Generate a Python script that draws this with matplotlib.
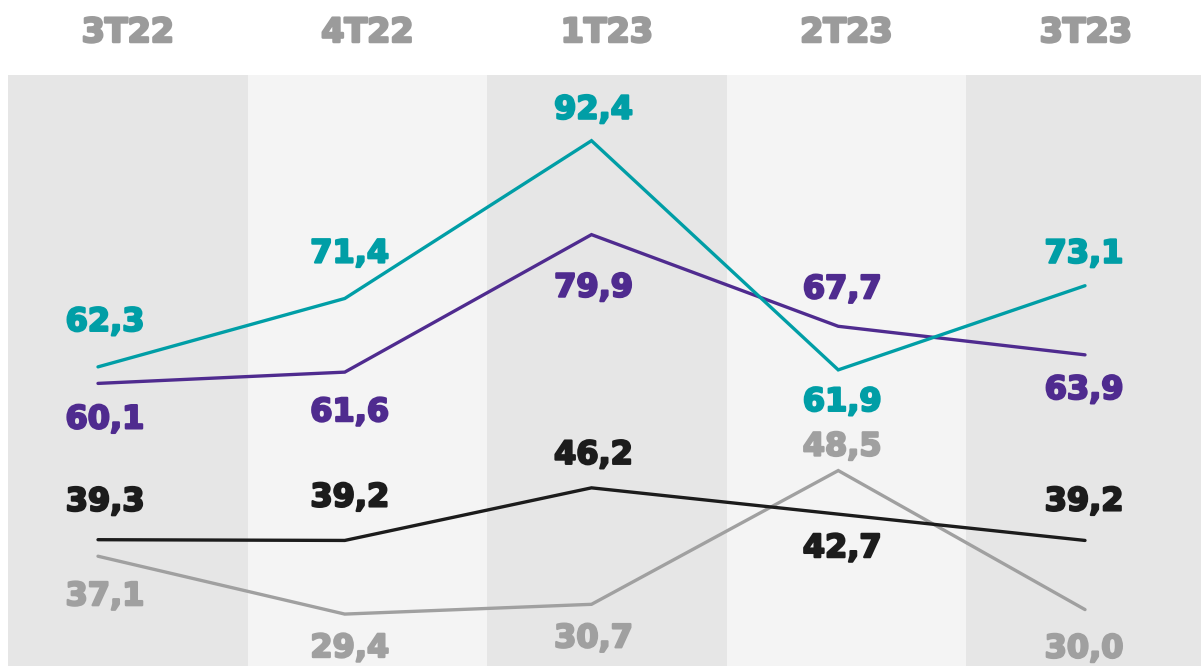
import matplotlib
matplotlib.use("Agg")
import matplotlib.pyplot as plt
import matplotlib.patheffects as pe

# ---- data ----
periods = ["3T22", "4T22", "1T23", "2T23", "3T23"]
teal_values = [62.3, 71.4, 92.4, 61.9, 73.1]
purple_values = [60.1, 61.6, 79.9, 67.7, 63.9]
black_values = [39.3, 39.2, 46.2, 42.7, 39.2]
gray_values = [37.1, 29.4, 30.7, 48.5, 30.0]

# ---- style ----
W, H, DPI = 1201, 666, 100
TEAL = "#009ea6"
PURPLE = "#4f2b8f"
BLACK = "#1c1c1c"
GRAY = "#a0a0a0"
HEADER = "#9b9b9b"
BAND_DARK = "#e6e6e6"
BAND_LIGHT = "#f4f4f4"
FONT = "DejaVu Sans"

# label offsets (pixels, label digit-centre relative to point; + = below)
label_dy = {
    "teal": [-48, -48, -34, 29, -35],
    "purple": [33, 37, 50, -40, 32],
    "black": [-41, -46, -36, 31, -42],
    "gray": [37, 31, 31, -27, 36],
}
label_dx = [7, 5, 2, 4, -1]
CAP = 24  # approximate digit height in px


def heavy(col, w=1.6):
    return [pe.withStroke(linewidth=w, foreground=col)]


fig = plt.figure(figsize=(W / DPI, H / DPI), dpi=DPI)
fig.patch.set_facecolor("white")

# background bands axes
band_left = 8 / W
band_w = 239.5 / W
top_px = 75
bg = fig.add_axes([band_left, 0, band_w * len(periods), 1 - top_px / H])
bg.set_xlim(0, len(periods))
bg.set_ylim(0, 1)
bg.axis("off")
for i, p in enumerate(periods):
    bg.axvspan(i, i + 1, color=BAND_DARK if i % 2 == 0 else BAND_LIGHT, lw=0)
    xc = band_left + band_w * (i + 0.5)
    fig.text(xc, 1 - 42 / H, p, ha="center", va="baseline", color=HEADER,
             fontsize=24, fontweight="bold", family=FONT,
             path_effects=heavy(HEADER, 1.8))

# line axes covering the whole figure
ax = fig.add_axes([0, 0, 1, 1])
ax.patch.set_alpha(0)
ax.axis("off")
x0_px, step_px = 98, 246.75
ax.set_xlim(-x0_px / step_px, (W - x0_px) / step_px)
y_ref, y_ref_px, sc = 92.4, 140.7, 7.514
ax.set_ylim(y_ref - (H - y_ref_px) / sc, y_ref + y_ref_px / sc)

xs = list(range(len(periods)))
series = [
    ("gray", gray_values, GRAY),
    ("black", black_values, BLACK),
    ("purple", purple_values, PURPLE),
    ("teal", teal_values, TEAL),
]
for name, vals, col in series:
    ax.plot(xs, vals, color=col, lw=2.4, solid_capstyle="round",
            solid_joinstyle="miter")
    for i, v in enumerate(vals):
        dy = label_dy[name][i]
        ax.annotate(f"{v:.1f}".replace(".", ","), (xs[i], v),
                    xytext=(label_dx[i], -(dy + CAP / 2)),
                    textcoords="offset pixels", ha="center", va="baseline",
                    color=col, fontsize=23, fontweight="bold", family=FONT,
                    path_effects=heavy(col))

fig.savefig("out.png", dpi=DPI, facecolor="white")
